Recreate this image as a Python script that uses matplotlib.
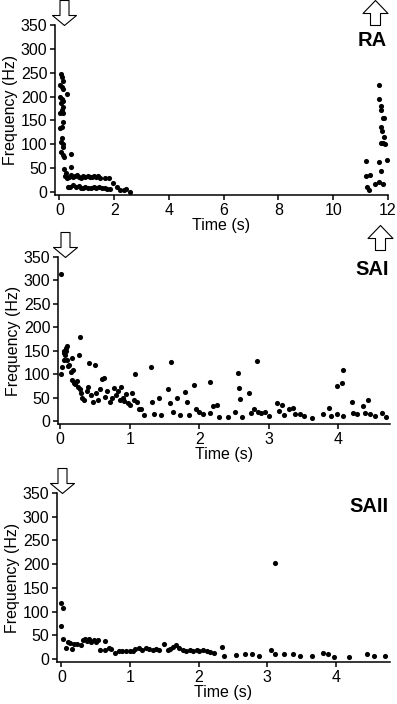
import matplotlib
matplotlib.use("Agg")
import matplotlib.pyplot as plt
import numpy as np
from matplotlib.path import Path

plt.rcParams['font.family'] = ['Liberation Sans', 'DejaVu Sans']

# ---------------- data ----------------
ra_time = [0.06, 0.10, 0.12, 0.04, 0.08, 0.12, 0.27, 0.04, 0.08, 0.12, 0.06, 0.12,
           0.10, 0.04, 0.14, 0.14, 0.04, 0.10, 0.08, 0.06, 0.12, 0.12, 0.05, 0.12,
           0.16, 0.41, 0.16, 0.41, 0.24,
           0.22, 0.28, 0.35, 0.42, 0.50, 0.57, 0.65, 0.72, 0.80, 0.88, 0.95, 1.03,
           1.10, 1.18, 1.25, 1.33, 1.42, 1.50, 1.65, 1.80,
           0.30, 0.38, 0.50, 0.60, 0.70, 0.78, 0.86, 0.95, 1.05, 1.15, 1.25, 1.35,
           1.45, 1.55, 1.65, 1.75, 1.85,
           1.97, 2.10, 2.20, 2.35, 2.45, 2.58,
           11.67, 11.67, 11.74, 11.74, 11.80, 11.87, 11.76, 11.78, 11.84, 11.73,
           11.82, 11.90, 11.97, 11.68, 11.19, 11.18, 11.34, 11.74, 11.22, 11.32,
           11.54, 11.66, 11.80]
ra_freq = [247, 240, 233, 224, 219, 215, 205, 198, 195, 191, 186, 177,
           172, 166, 166, 147, 133, 137, 114, 105, 100, 95, 84, 78,
           74, 80, 48, 53, 40,
           33, 30, 32, 35, 31, 33, 36, 32, 30, 34, 32, 33,
           31, 32, 34, 31, 33, 30, 30, 29,
           11, 10, 15, 10, 12, 9, 8, 10, 8, 9, 11, 8,
           10, 9, 8, 7, 6,
           18, 10, 5, 3, 6, 0,
           224, 194, 180, 172, 154, 154, 137, 128, 116, 103,
           103, 100, 67, 62, 65, 34, 35, 44, 10, 5,
           16, 20, 16]

sai_time = [0.01, 0.01, 0.03, 0.05, 0.05, 0.06, 0.07, 0.08, 0.09, 0.10, 0.10, 0.12,
            0.13, 0.15, 0.17, 0.17, 0.19, 0.20, 0.22, 0.24, 0.26, 0.28, 0.29, 0.27,
            0.30, 0.32, 0.35, 0.38, 0.40, 0.41, 0.44, 0.47, 0.50, 0.51, 0.55, 0.58,
            0.60, 0.63, 0.65, 0.68, 0.71, 0.74, 0.77, 0.80, 0.83, 0.86, 0.88, 0.90,
            0.92, 0.95, 0.98, 1.00, 1.03, 1.06, 1.08, 1.10, 1.13, 1.16, 1.20, 1.30,
            1.32, 1.35, 1.42, 1.45, 1.55, 1.58, 1.60, 1.62, 1.68, 1.72, 1.80, 1.83,
            1.85, 1.92, 1.95, 2.00, 2.06, 2.15, 2.15, 2.20, 2.25, 2.28, 2.41, 2.51,
            2.56, 2.57, 2.58, 2.62, 2.72, 2.74, 2.79, 2.83, 2.84, 2.89, 2.95, 3.00,
            3.11, 3.15, 3.19, 3.21, 3.29, 3.34, 3.38, 3.45, 3.51, 3.62, 3.78, 3.86,
            3.89, 3.98, 3.98, 4.05, 4.06, 4.07, 4.19, 4.21, 4.27, 4.35, 4.42, 4.38,
            4.45, 4.52, 4.62, 4.68]
sai_freq = [313, 100, 115, 130, 150, 145, 141, 155, 150, 160, 130, 117,
            120, 105, 135, 88, 108, 82, 78, 86, 72, 68, 180, 140,
            60, 50, 45, 65, 72, 123, 55, 40, 120, 60, 45, 68,
            90, 92, 52, 65, 40, 48, 70, 55, 65, 45, 72, 50,
            42, 58, 38, 35, 60, 45, 100, 40, 25, 25, 12, 115,
            40, 15, 48, 12, 68, 38, 125, 20, 50, 12, 62, 40,
            12, 77, 25, 20, 15, 84, 18, 32, 34, 8, 9, 20,
            102, 70, 46, 9, 59, 18, 26, 128, 20, 18, 20, 10,
            39, 22, 33, 12, 25, 28, 14, 14, 10, 7, 14, 28,
            10, 15, 75, 80, 109, 10, 41, 16, 14, 31, 45, 18,
            14, 10, 18, 8]

saii_time = [0.00, 0.02, 0.00, 0.02, 0.06, 0.09, 0.12, 0.15, 0.18, 0.23, 0.28,
             0.31, 0.35, 0.38, 0.40, 0.43, 0.47, 0.50, 0.54, 0.57, 0.63, 0.64,
             0.70, 0.72, 0.78, 0.84, 0.89, 0.94, 1.00, 1.04,
             1.08, 1.13, 1.18, 1.23, 1.28, 1.33, 1.38, 1.42, 1.49,
             1.55, 1.59, 1.63, 1.67, 1.72, 1.77, 1.82, 1.87, 1.92, 1.97,
             2.01, 2.06, 2.12, 2.16, 2.23, 2.34, 2.37,
             2.55, 2.67, 2.78, 2.88, 3.05, 3.11, 3.11, 3.24, 3.37, 3.48, 3.66,
             3.81, 3.89, 3.98, 4.19, 4.45, 4.56, 4.72]
saii_freq = [119, 108, 70, 42, 24, 35, 33, 20, 32, 32, 30,
             40, 41, 38, 42, 36, 40, 35, 39, 18, 37, 18,
             24, 20, 12, 16, 16, 16, 16, 16,
             20, 22, 18, 23, 21, 18, 21, 19, 32,
             18, 21, 25, 30, 23, 18, 17, 19, 16, 18,
             17, 19, 17, 15, 13, 25, 6,
             9, 10, 10, 6, 18, 10, 202, 10, 11, 6, 6,
             13, 11, 4, 4, 11, 6, 6]

panels = [
    dict(t=ra_time, f=ra_freq, name="RA", xlim=(-0.16, 12.0), xticks=[0, 2, 4, 6, 8, 10, 12],
         rect=[55, 25, 388, 195], down=0.17, up=11.54, up_base=350, name_y=0.91),
    dict(t=sai_time, f=sai_freq, name="SAI", xlim=(-0.03, 4.74), xticks=[0, 1, 2, 3, 4],
         rect=[58, 257, 390, 424], down=0.065, up=4.59, up_base=365, name_y=0.925),
    dict(t=saii_time, f=saii_freq, name="SAII", xlim=(-0.064, 4.79), xticks=[0, 1, 2, 3, 4],
         rect=[57, 493, 390, 662], down=0.01, up=None, up_base=None, name_y=0.92),
]

# open block arrows as marker paths (tip / base at origin)
down_verts = [(0, 0), (12, 10), (4.5, 10), (4.5, 25), (-4.5, 25), (-4.5, 10), (-12, 10), (0, 0)]
up_verts = [(0, 25), (12.5, 12), (5, 12), (5, 0), (-5, 0), (-5, 12), (-12.5, 12), (0, 25)]
down_arrow = Path(down_verts, closed=True)
up_arrow = Path(up_verts, closed=True)

W, H = 397, 704
fig = plt.figure(figsize=(W / 100, H / 100), dpi=100)

for p in panels:
    x0, y0, x1, y1 = p["rect"]
    ax = fig.add_axes([x0 / W, 1 - y1 / H, (x1 - x0) / W, (y1 - y0) / H])
    ax.plot(p["t"], p["f"], 'o', color='black', ms=3.7, mew=0, clip_on=False)
    ax.set_xlim(*p["xlim"])
    ax.set_ylim(-6.5, 350)
    ax.set_xticks(p["xticks"])
    ax.set_yticks(np.arange(0, 351, 50))
    for s in ["top", "right"]:
        ax.spines[s].set_visible(False)
    for s in ["left", "bottom"]:
        ax.spines[s].set_linewidth(1.1)
    ax.tick_params(direction='out', length=3.5, width=1.1, labelsize=11.5, pad=2)
    ax.set_xlabel("Time (s)", fontsize=11.5, labelpad=0)
    ax.set_ylabel("Frequency (Hz)", fontsize=11.5, labelpad=2)
    ax.text(0.997, p["name_y"], p["name"], transform=ax.transAxes, ha='right', va='center',
            fontsize=14.5, fontweight='bold')
    # stimulus on / off arrows
    ax.plot([p["down"]], [350], marker=down_arrow, ms=36, mfc='white', mec='black', mew=0.8,
            clip_on=False, ls='none')
    if p["up"] is not None:
        ax.plot([p["up"]], [p["up_base"]], marker=up_arrow, ms=36, mfc='white', mec='black',
                mew=0.8, clip_on=False, ls='none')

fig.savefig("out.png", dpi=100)
